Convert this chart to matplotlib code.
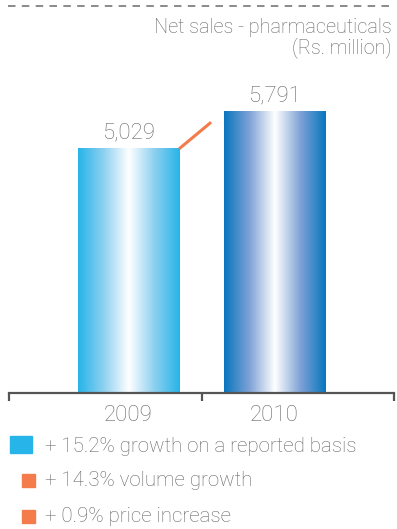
import numpy as np
import matplotlib
matplotlib.use("Agg")
import matplotlib.pyplot as plt
from matplotlib.colors import LinearSegmentedColormap
from matplotlib.patches import Rectangle

# data
years = ["2009", "2010"]
sales = [5029, 5791]
title = "Net sales - pharmaceuticals\n(Rs. million)"
legend_items = ["+ 15.2% growth on a reported basis",
                "+ 14.3% volume growth",
                "+ 0.9% price increase"]

plt.rcParams['font.family'] = ['Roboto', 'DejaVu Sans']
grey = '#666666'
W, H = 397, 529
fig = plt.figure(figsize=(W/100, H/100), dpi=100)

# axes from x=9..394 px, baseline at y=393 px
ax = fig.add_axes([9/W, (H-393)/H, 385/W, 315/H])
ax.set_xlim(0, 2)
ax.set_ylim(0, 315*20.6)

pos = [0.621, 1.377]
bw = 0.525
cmaps = [
    LinearSegmentedColormap.from_list('b1', ['#27b4e8', '#8dd0f0', '#ffffff', '#8dd0f0', '#27b4e8']),
    LinearSegmentedColormap.from_list('b2', ['#0776be', '#7fa2d6', '#ffffff', '#7fa2d6', '#0776be']),
]
grad = np.linspace(0, 1, 256).reshape(1, -1)
for p, v, cm in zip(pos, sales, cmaps):
    ax.imshow(grad, cmap=cm, aspect='auto', extent=(p-bw/2, p+bw/2, 0, v),
              interpolation='bicubic', zorder=2)
    ax.text(p, v + 110, f"{v:,}", ha='center', va='bottom', fontsize=16,
            color=grey, fontweight='light')

# connector line between the bar tops
x0, y0 = pos[0] + bw/2, sales[0]
x1, y1 = pos[1] - bw/2, sales[1]
f = 0.72
ax.plot([x0, x0 + f*(x1-x0)], [y0, y0 + f*(y1-y0)], color='#f47b4b', lw=2.2,
        solid_capstyle='butt', zorder=3)

for s in ['top', 'left', 'right']:
    ax.spines[s].set_visible(False)
ax.spines['bottom'].set_color('#555555')
ax.spines['bottom'].set_linewidth(1.6)
ax.set_yticks([])
ax.set_xticks([0, 1, 2])
ax.set_xticklabels([])
ax.tick_params(axis='x', which='major', length=6, width=1.6, color='#555555')
ax.set_xticks(pos, minor=True)
ax.set_xticklabels(years, minor=True, fontsize=16, color=grey, fontweight='light')
ax.tick_params(axis='x', which='minor', length=0, pad=8.5)

# top dashed rule and title
fig.add_artist(plt.Line2D([8/W, 395/W], [1-6/H, 1-6/H], color='#777777', lw=1.2,
                          linestyle=(0, (4.5, 3.8))))
fig.text(392/W, 1-38/H, title, ha='right', va='center', fontsize=14.3,
         color=grey, fontweight='light', linespacing=0.98)

# legend
fig.add_artist(Rectangle((10/W, 1-453/H), 22/W, 17/H, color='#27b4e8'))
fig.add_artist(Rectangle((22/W, 1-487/H), 13/W, 13/H, color='#f47b4b'))
fig.add_artist(Rectangle((22/W, 1-523/H), 13/W, 13/H, color='#f47b4b'))
for t, yy in zip(legend_items, [446, 481, 516]):
    fig.text(45/W, 1-yy/H, t, ha='left', va='center', fontsize=14.8,
             color=grey, fontweight='light')

fig.savefig('out.png', dpi=100)
